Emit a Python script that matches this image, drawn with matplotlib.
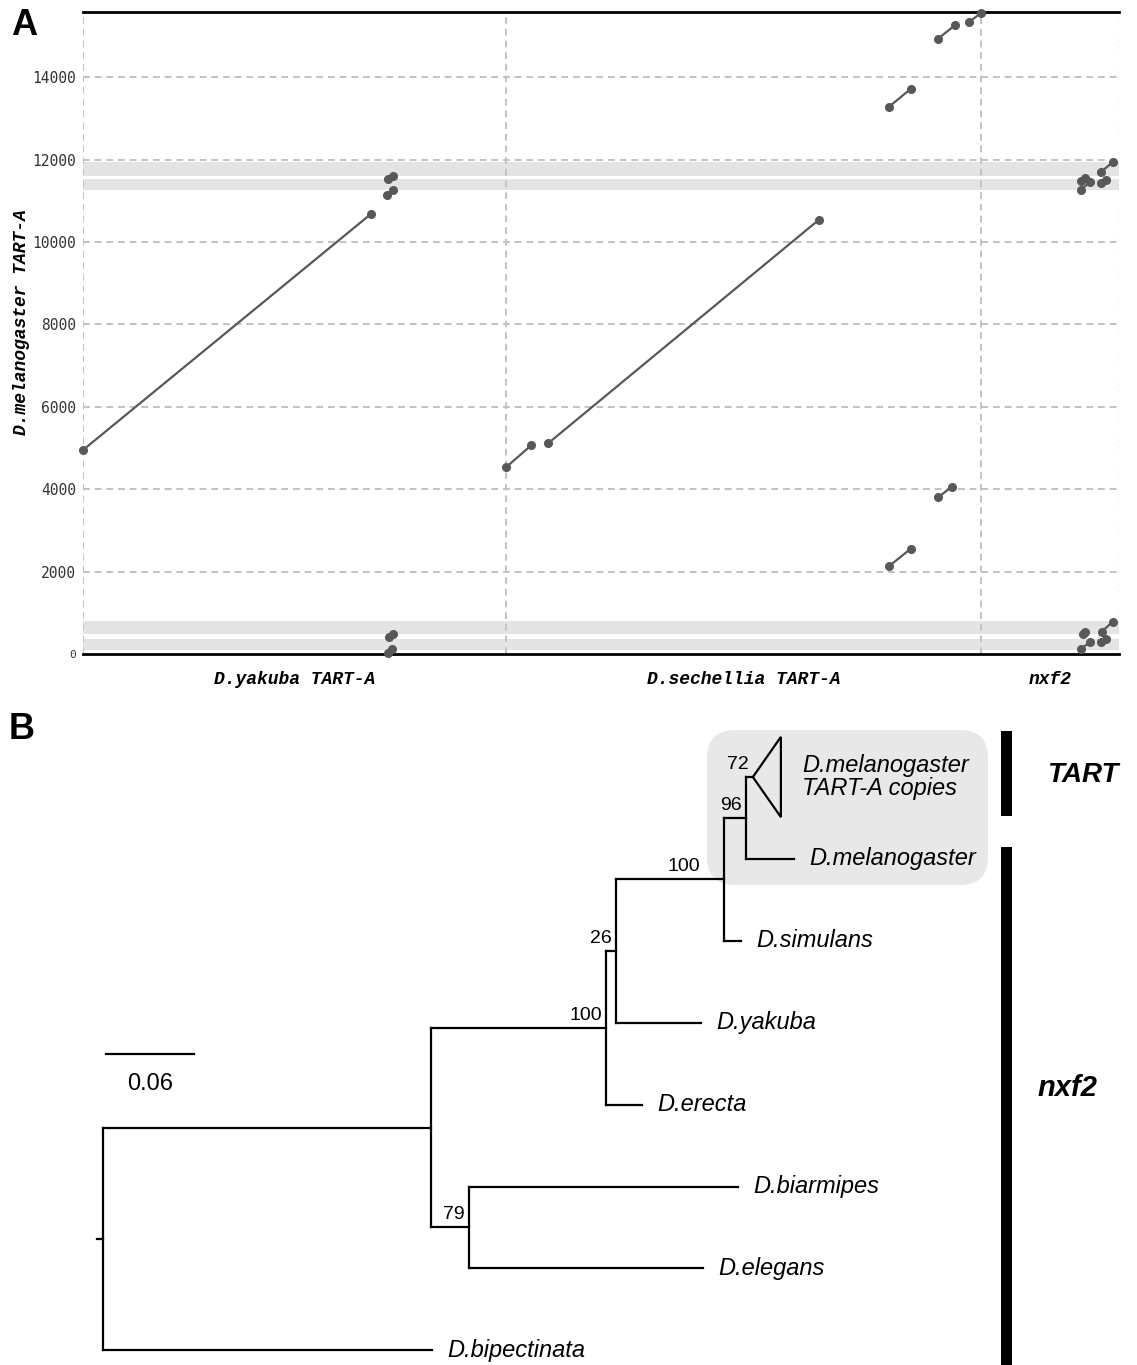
import matplotlib
matplotlib.use("Agg")
import matplotlib.pyplot as plt
from matplotlib.patches import FancyBboxPatch, Rectangle, Polygon

W, H = 1137, 1365

# ---------------- Panel A data (dot plot vs D.melanogaster TART-A) ----------------
ref_label = "D.melanogaster TART-A"
ref_length = 15580
seq_names = ["D.yakuba TART-A", "D.sechellia TART-A", "nxf2"]
seq_lengths = [8460, 9500, 2760]
y_ticks = [0, 2000, 4000, 6000, 8000, 10000, 12000, 14000]

yakuba_x0 = [0, 6100, 6080, 6120, 6100]
yakuba_x1 = [5760, 6200, 6200, 6200, 6180]
yakuba_y0 = [4950, 11530, 11140, 410, 20]
yakuba_y1 = [10680, 11610, 11260, 490, 120]

sechellia_x0 = [0, 840, 7660, 8640, 9260, 7660, 8640]
sechellia_x1 = [500, 6260, 8100, 8980, 9500, 8100, 8920]
sechellia_y0 = [4530, 5110, 13280, 14930, 15330, 2130, 3800]
sechellia_y1 = [5060, 10540, 13720, 15260, 15560, 2560, 4060]

nxf2_x0 = [2000, 2000, 2400, 2400, 2030, 2000, 2420, 2400]
nxf2_x1 = [2080, 2180, 2630, 2500, 2080, 2180, 2630, 2500]
nxf2_y0 = [11470, 11270, 11700, 11430, 490, 130, 545, 285]
nxf2_y1 = [11540, 11450, 11930, 11510, 535, 285, 780, 375]

band_lo = [11610, 11270, 490, 105]
band_hi = [11930, 11530, 795, 365]

# ---------------- Panel B data (phylogeny) ----------------
tree_node = ["root", "n1", "n2", "n3", "n4", "n5", "n7",
             "copies", "mel", "sim", "yak", "ere", "bia", "ele", "bip"]
tree_parent = [None, "root", "n1", "n2", "n3", "n4", "n1",
               "n5", "n5", "n4", "n3", "n2", "n7", "n7", "root"]
branch_len = [0.0, 0.2236, 0.1193, 0.0068, 0.0736, 0.0150, 0.0259,
              0.0048, 0.0327, 0.0116, 0.0580, 0.0245, 0.1834, 0.1595, 0.2243]
support = [None, None, 100, 26, 100, 96, 79,
           72, None, None, None, None, None, None, None]
leaf_label = {"copies": "D.melanogaster\nTART-A copies", "mel": "D.melanogaster",
              "sim": "D.simulans", "yak": "D.yakuba", "ere": "D.erecta",
              "bia": "D.biarmipes", "ele": "D.elegans", "bip": "D.bipectinata"}
collapsed_node = "copies"
collapsed_depth = 0.0191
scale_value = 0.06

# ---------------- Figure ----------------
fig = plt.figure(figsize=(W / 100, H / 100), dpi=100)


def rect(x0, y0, x1, y1):
    return [x0 / W, 1 - y1 / H, (x1 - x0) / W, (y1 - y0) / H]


# overlay axes in pixel coordinates for decorations
axO = fig.add_axes([0, 0, 1, 1], zorder=0)
axO.set_xlim(0, W)
axO.set_ylim(H, 0)
axO.axis("off")
axO.patch.set_visible(False)

# ---------- Panel A ----------
axA = fig.add_axes(rect(83, 12, 1119, 654), zorder=1)
total = sum(seq_lengths)
axA.set_xlim(0, total)
axA.set_ylim(0, ref_length)
for s in axA.spines.values():
    s.set_visible(False)

for lo, hi in zip(band_lo, band_hi):
    axA.axhspan(lo, hi, color="#e4e4e4", lw=0, zorder=0)

grid_kw = dict(color="#c2c2c2", lw=1.4, ls=(0, (3.5, 2.5)), zorder=1)
for yt in y_ticks[1:]:
    axA.axhline(yt, **grid_kw)
offsets = [sum(seq_lengths[:i]) for i in range(len(seq_lengths))]
for off in offsets:
    axA.axvline(off, **grid_kw)
axA.axvline(total, color="#c2c2c2", lw=1.0, ls=(0, (1.5, 3)), zorder=1)
axA.axhline(ref_length, color="black", lw=2.0, zorder=3, clip_on=False)
axA.axhline(0, color="black", lw=2.0, zorder=3, clip_on=False)

segsets = [(yakuba_x0, yakuba_x1, yakuba_y0, yakuba_y1),
           (sechellia_x0, sechellia_x1, sechellia_y0, sechellia_y1),
           (nxf2_x0, nxf2_x1, nxf2_y0, nxf2_y1)]
for off, (x0s, x1s, y0s, y1s) in zip(offsets, segsets):
    for x0, x1, y0, y1 in zip(x0s, x1s, y0s, y1s):
        axA.plot([off + x0, off + x1], [y0, y1], color="#585858", lw=1.6,
                 marker="o", ms=5.5, solid_capstyle="round", zorder=4, clip_on=False)

axA.set_yticks(y_ticks)
axA.set_yticklabels([str(v) for v in y_ticks], fontfamily="DejaVu Sans Mono",
                    fontsize=10.5, color="#333333")
axA.get_yticklabels()[0].set_fontsize(8)
axA.tick_params(axis="y", length=0, pad=5)
axA.set_xticks([o + L / 2 for o, L in zip(offsets, seq_lengths)])
axA.set_xticklabels(seq_names, fontfamily="Liberation Mono", fontweight="bold",
                    fontstyle="italic", fontsize=13)
axA.tick_params(axis="x", length=0, pad=12)
fig.text(22 / W, 1 - 322 / H, ref_label, rotation=90, ha="center", va="center",
         fontfamily="Liberation Mono", fontweight="bold", fontstyle="italic", fontsize=13)

# ---------- Panel B ----------
ppu = 88 / scale_value          # pixels per substitution unit
leaf_step = 81.9                # pixels per leaf
root_px, top_leaf_px = 103, 777
axB = fig.add_axes(rect(0, 690, W, H), zorder=1)
axB.set_xlim(-root_px / ppu, (W - root_px) / ppu)
axB.set_ylim((H - top_leaf_px) / leaf_step, (690 - top_leaf_px) / leaf_step)
axB.axis("off")
axB.patch.set_visible(False)

idx = {n: i for i, n in enumerate(tree_node)}
children = {n: [] for n in tree_node}
for n, p in zip(tree_node, tree_parent):
    if p is not None:
        children[p].append(n)

xpos, ypos = {}, {}
leaf_counter = [0]


def layout(n, x):
    xpos[n] = x
    if not children[n]:
        ypos[n] = leaf_counter[0]
        leaf_counter[0] += 1
    else:
        for c in children[n]:
            layout(c, x + branch_len[idx[c]])
        ypos[n] = (ypos[children[n][0]] + ypos[children[n][-1]]) / 2


layout("root", 0.0)

lw_tree = 1.6
for n in tree_node:
    p = tree_parent[idx[n]]
    if p is not None:
        axB.plot([xpos[p], xpos[n]], [ypos[n], ypos[n]], color="black", lw=lw_tree,
                 solid_capstyle="projecting")
    if children[n]:
        ys = [ypos[c] for c in children[n]]
        axB.plot([xpos[n], xpos[n]], [min(ys), max(ys)], color="black", lw=lw_tree,
                 solid_capstyle="projecting")
axB.plot([xpos["root"] - 6 / ppu, xpos["root"]], [ypos["root"]] * 2, color="black", lw=lw_tree)

# collapsed clade triangle
cx, cy = xpos[collapsed_node], ypos[collapsed_node]
tri = Polygon([[cx, cy], [cx + collapsed_depth, cy - 0.49], [cx + collapsed_depth, cy + 0.49]],
              closed=True, fill=False, ec="black", lw=lw_tree)
axB.add_patch(tri)

for n in tree_node:
    if not children[n]:
        if n == collapsed_node:
            x = xpos[n] + collapsed_depth + 21 / ppu
        else:
            x = xpos[n] + 15 / ppu
        axB.text(x, ypos[n], leaf_label[n], ha="left", va="center", fontstyle="italic",
                 fontfamily="Liberation Sans", fontsize=17, linespacing=0.95)
support_nudge_px = {"n4": -20}
for n in tree_node:
    s = support[idx[n]]
    if s is not None:
        dx = (-4 + support_nudge_px.get(n, 0)) / ppu
        axB.text(xpos[n] + dx, ypos[n] - 4 / leaf_step, str(s), ha="right", va="bottom",
                 fontfamily="Liberation Sans", fontsize=14)

# scale bar
sb_x0 = 3 / ppu
sb_y = (1054 - top_leaf_px) / leaf_step
axB.plot([sb_x0, sb_x0 + scale_value], [sb_y, sb_y], color="black", lw=lw_tree)
axB.text(sb_x0 + scale_value / 2, sb_y + 19 / leaf_step, f"{scale_value:.2f}", ha="center",
         va="top", fontfamily="Liberation Sans", fontsize=17)

# decorations in pixel coordinates
axO.add_patch(FancyBboxPatch((707, 730), 281, 155, boxstyle="round,pad=0,rounding_size=28",
                             fc="#e8e8e8", ec="none", zorder=0))
axO.add_patch(Rectangle((1001, 731), 11, 85, fc="black", ec="none"))
axO.add_patch(Rectangle((1001, 847), 11, H - 847, fc="black", ec="none"))
axO.text(1083, 775, "TART", ha="center", va="center", fontfamily="Liberation Sans",
         fontweight="bold", fontstyle="italic", fontsize=20)
axO.text(1068, 1088, "nxf2", ha="center", va="center", fontfamily="Liberation Sans",
         fontweight="bold", fontstyle="italic", fontsize=21)
axO.text(11, 8, "A", ha="left", va="top", fontfamily="Liberation Sans",
         fontweight="bold", fontsize=26)
axO.text(9, 712, "B", ha="left", va="top", fontfamily="Liberation Sans",
         fontweight="bold", fontsize=26)

fig.savefig("out.png", dpi=100)
